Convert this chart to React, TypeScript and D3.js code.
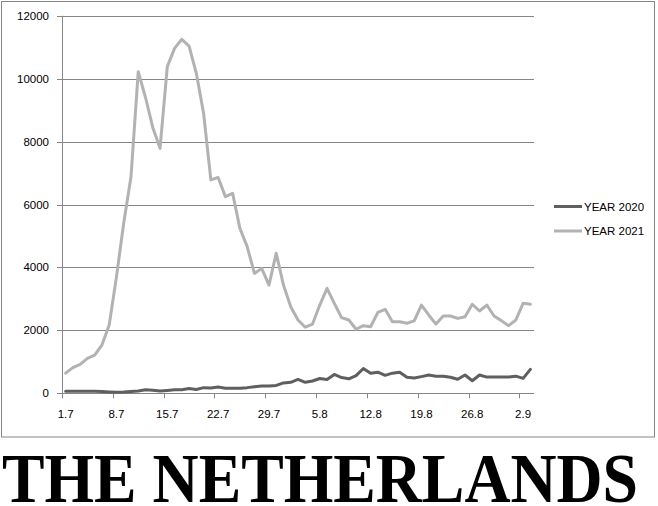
import React from "react";
import * as d3 from "d3";

const categories: string[] = [
  "1.7","2.7","3.7","4.7","5.7","6.7","7.7","8.7","9.7","10.7",
  "11.7","12.7","13.7","14.7","15.7","16.7","17.7","18.7","19.7","20.7",
  "21.7","22.7","23.7","24.7","25.7","26.7","27.7","28.7","29.7","30.7",
  "31.7","1.8","2.8","3.8","4.8","5.8","6.8","7.8","8.8","9.8",
  "10.8","11.8","12.8","13.8","14.8","15.8","16.8","17.8","18.8","19.8",
  "20.8","21.8","22.8","23.8","24.8","25.8","26.8","27.8","28.8","29.8",
  "30.8","31.8","1.9","2.9","3.9",
];

const year2020: number[] = [
  65, 65, 65, 65, 65, 60, 45, 30, 40, 60,
  70, 110, 100, 70, 90, 110, 110, 150, 120, 180,
  170, 200, 160, 160, 160, 180, 210, 230, 230, 250,
  330, 350, 440, 350, 390, 470, 440, 600, 500, 460,
  560, 790, 640, 670, 570, 640, 670, 510, 485, 530,
  580, 545, 545, 510, 445, 580, 400, 580, 515, 515,
  515, 515, 545, 475, 760,
];

const year2021: number[] = [
  640, 815, 920, 1110, 1215, 1535, 2170, 3700, 5410, 6880,
  10220, 9400, 8450, 7785, 10380, 10960, 11250, 11035, 10170, 8900,
  6780, 6860, 6250, 6355, 5240, 4660, 3810, 3970, 3440, 4450,
  3440, 2750, 2330, 2100, 2200, 2805, 3335, 2860, 2405, 2330,
  2035, 2150, 2115, 2570, 2670, 2275, 2275, 2225, 2300, 2805,
  2490, 2200, 2455, 2455, 2380, 2435, 2830, 2615, 2805, 2455,
  2310, 2150, 2330, 2860, 2830,
];

const yTicks: number[] = [0, 2000, 4000, 6000, 8000, 10000, 12000];
const seriesNames: string[] = ["YEAR 2020", "YEAR 2021"];
const seriesColors: string[] = ["#5f5f5f", "#b2b2b2"];
const title = "THE NETHERLANDS";

export default function App() {
  const W = 658, H = 506;
  const left = 62, right = 534, top = 15.7, bottom = 393.3;
  const x = d3.scaleBand<string>().domain(categories).range([left, right]).padding(0);
  const y = d3.scaleLinear().domain([0, 12000]).range([bottom, top]);
  const bw = x.bandwidth();
  const cx = (c: string) => (x(c) as number) + bw / 2;
  const line = d3
    .line<number>()
    .x((_, i) => cx(categories[i]))
    .y((d) => y(d));
  const series = [year2020, year2021];
  const gridColor = "#868686";
  const font = "'Liberation Sans', Arial, sans-serif";
  const tickIdx = categories.map((_, i) => i).filter((i) => i % 7 === 0);

  return (
    <svg
      width={W}
      height={H}
      style={{ position: "absolute", left: 0, top: 0, background: "#fff" }}
    >
      <rect x={1.5} y={1.5} width={653} height={435.5} fill="#fff" stroke={gridColor} strokeWidth={1} />
      {yTicks.map((t) => (
        <g key={t}>
          {t > 0 && (
            <line x1={left - 5} x2={right} y1={Math.round(y(t)) + 0.5} y2={Math.round(y(t)) + 0.5} stroke={gridColor} strokeWidth={1} />
          )}
          {t === 0 && (
            <line x1={left - 5} x2={left} y1={Math.round(y(t)) + 0.5} y2={Math.round(y(t)) + 0.5} stroke={gridColor} strokeWidth={1} />
          )}
          <text x={49} y={y(t) + 4} textAnchor="end" fontFamily={font} fontSize={11.5} fill="#000">
            {t}
          </text>
        </g>
      ))}
      <line x1={left + 0.5} x2={left + 0.5} y1={top} y2={bottom + 0.5} stroke={gridColor} strokeWidth={1} />
      <line x1={left} x2={right} y1={Math.round(bottom) + 0.5} y2={Math.round(bottom) + 0.5} stroke={gridColor} strokeWidth={1} />
      {tickIdx.map((i) => {
        const tx = Math.round(x(categories[i]) as number) + 0.5;
        return (
          <g key={i}>
            <line x1={tx} x2={tx} y1={bottom} y2={bottom + 5} stroke={gridColor} strokeWidth={1} />
            <text x={cx(categories[i])} y={418} textAnchor="middle" fontFamily={font} fontSize={11.5} fill="#000">
              {categories[i]}
            </text>
          </g>
        );
      })}
      {series.map((s, k) => (
        <path
          key={k}
          d={line(s) as string}
          fill="none"
          stroke={seriesColors[k]}
          strokeWidth={3}
          strokeLinejoin="round"
          strokeLinecap="round"
        />
      ))}
      {seriesNames.map((n, k) => (
        <g key={n}>
          <line x1={554} x2={582} y1={206.5 + k * 24.5} y2={206.5 + k * 24.5} stroke={seriesColors[k]} strokeWidth={3} />
          <text x={584} y={210.5 + k * 24.5} fontFamily={font} fontSize={11.5} fill="#000">
            {n}
          </text>
        </g>
      ))}
      <text
        x={2}
        y={502}
        fontFamily="'Liberation Serif', 'Times New Roman', serif"
        fontWeight="bold"
        fontSize={70}
        textLength={636}
        lengthAdjust="spacingAndGlyphs"
        fill="#000"
      >
        {title}
      </text>
    </svg>
  );
}
